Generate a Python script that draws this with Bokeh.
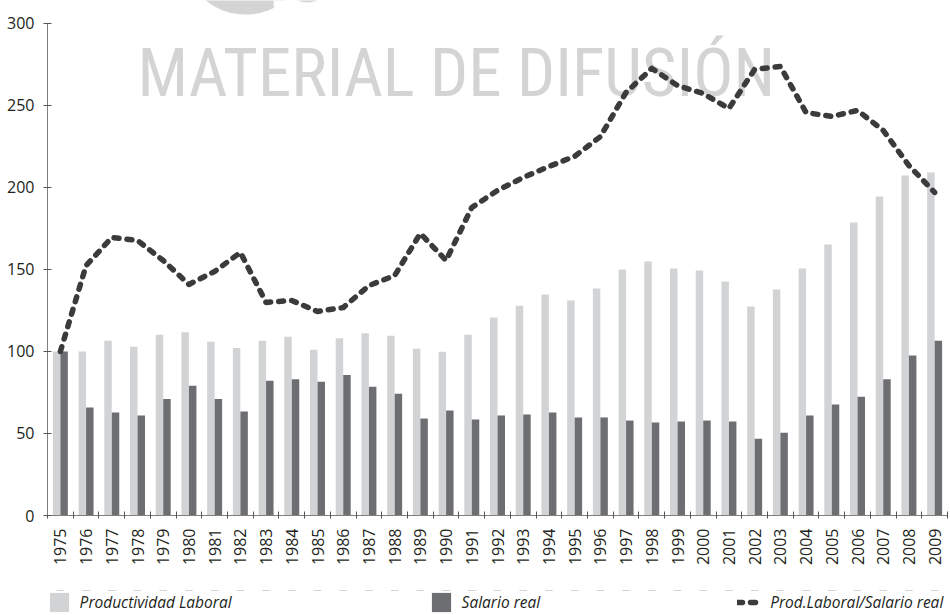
import math
from bokeh.plotting import figure
from bokeh.layouts import column
from bokeh.models import Range1d, FixedTicker, LinearAxis, Legend, LegendItem
from bokeh.core.properties import value
from bokeh.embed import file_html
from bokeh.resources import INLINE

years = [str(y) for y in range(1975, 2010)]
productividad = [100, 100, 106.5, 102.9, 110.2, 111.8, 105.9, 102.2, 106.5, 109.0,
                 101.0, 108.1, 111.2, 109.6, 101.6, 99.8, 110.2, 120.7, 127.9, 134.8,
                 131.1, 138.4, 150.0, 154.9, 150.6, 149.4, 142.7, 127.4, 137.8, 150.6,
                 165.2, 178.7, 194.5, 207.3, 209.1]
salario = [100, 65.9, 62.8, 61.0, 71.1, 79.1, 71.1, 63.4, 82.1, 83.1,
           81.5, 85.6, 78.5, 74.2, 59.1, 64.0, 58.5, 61.0, 61.6, 62.8,
           59.8, 59.8, 57.9, 56.7, 57.3, 57.9, 57.3, 46.8, 50.4, 61.0,
           67.7, 72.4, 83.1, 97.6, 106.5]
ratio = [100, 152.4, 169.5, 167.7, 155.5, 140.9, 148.8, 160.4, 129.9, 131.1,
         124.4, 126.8, 140.2, 146.3, 172.0, 155.5, 187.8, 198.2, 206.1, 212.8,
         219.0, 231.0, 258.0, 272.6, 262.2, 257.3, 248.2, 272.0, 273.8, 245.7,
         243.3, 247.0, 234.8, 213.4, 197.0]
y_ticks = [0, 50, 100, 150, 200, 250, 300]
series_names = ["Productividad Laboral", "Salario real", "Prod.Laboral/Salario real"]
watermark = "MATERIAL DE DIFUSIÓN"

FONT = "Open Sans"
TXT = "#231f20"
AX = "#7f7f7f"
LIGHT = "#d1d3d4"
DARK = "#6d6e71"
LINEC = "#3b3b3d"
WM = "#d4d4d4"

n = len(years)
centers = [i + 0.5 for i in range(n)]

p = figure(width=950, height=590, frame_width=900, frame_height=515,
           output_backend="svg", toolbar_location=None,
           x_range=Range1d(0, n), y_range=Range1d(0, 314.02),
           x_axis_type=None, y_axis_type=None,
           min_border_left=47, min_border_right=3, min_border_top=0, min_border_bottom=75)
p.outline_line_color = None
p.background_fill_color = "white"
p.border_fill_color = "white"

# watermark logo fragment and text
p.ellipse(x=[7.70], y=[338.4], width=118, height=108, width_units="screen", height_units="screen",
          fill_color=WM, line_color=None)
p.ellipse(x=[11.006], y=[314.02], width=114, height=114, width_units="screen", height_units="screen",
          fill_color="white", line_color=None)
p.ellipse(x=[10.11], y=[315.9], width=24, height=10, width_units="screen", height_units="screen",
          fill_color=WM, line_color=None)
p.text(x=[3.5], y=[269.8], text=[watermark], text_font=value("Roboto Condensed"),
       text_font_size="67px", text_color=WM, text_baseline="alphabetic", text_align="left")

p.vbar(x=[c - 0.146 for c in centers], top=productividad, bottom=0, width=0.29,
       fill_color=LIGHT, line_color=None)
p.vbar(x=[c + 0.146 for c in centers], top=salario, bottom=0, width=0.29,
       fill_color=DARK, line_color=None)
p.line(x=centers, y=ratio, line_width=5.5, line_color=LINEC, line_dash="5 8",
       line_cap="round", line_join="round")

yaxis = LinearAxis(ticker=FixedTicker(ticks=y_ticks), bounds=(0, 300))
yaxis.axis_line_color = AX
yaxis.major_tick_line_color = "#555555"
yaxis.major_tick_in = 4
yaxis.major_tick_out = 4
yaxis.minor_tick_line_color = None
yaxis.major_label_standoff = 9
yaxis.major_label_text_font = FONT
yaxis.major_label_text_font_size = "16px"
yaxis.major_label_text_color = TXT
p.add_layout(yaxis, "left")

xaxis = LinearAxis(ticker=FixedTicker(ticks=centers, minor_ticks=list(range(n + 1))),
                   major_label_overrides={c: y for c, y in zip(centers, years)})
xaxis.axis_line_color = AX
xaxis.major_tick_line_color = None
xaxis.major_tick_in = 0
xaxis.major_tick_out = 0
xaxis.minor_tick_line_color = "#555555"
xaxis.minor_tick_in = 4
xaxis.minor_tick_out = 3
xaxis.major_label_orientation = math.pi / 2
xaxis.major_label_standoff = 10
xaxis.major_label_text_font = FONT
xaxis.major_label_text_font_size = "16px"
xaxis.major_label_text_color = TXT
p.add_layout(xaxis, "below")

# legend strip (separate figure under the chart; its data lie outside its view)
lp = figure(width=950, height=25, output_backend="svg", toolbar_location=None,
            x_range=Range1d(0, n), y_range=Range1d(-2, -1),
            x_axis_type=None, y_axis_type=None, min_border=0)
lp.outline_line_color = None
lp.background_fill_color = "white"
lp.border_fill_color = "white"
lr1 = lp.vbar(x=centers, top=productividad, bottom=0, width=0.29, fill_color=LIGHT, line_color=None)
lr2 = lp.vbar(x=centers, top=salario, bottom=0, width=0.29, fill_color=DARK, line_color=None)
lr3 = lp.line(x=centers, y=ratio, line_width=5.5, line_color=LINEC, line_dash="5 8",
              line_cap="round", line_join="round")

legend = Legend(items=[LegendItem(label=series_names[0], renderers=[lr1]),
                       LegendItem(label=series_names[1], renderers=[lr2]),
                       LegendItem(label=series_names[2], renderers=[lr3])],
                location=(-0.4, 1), orientation="horizontal",
                glyph_width=24, glyph_height=24, label_standoff=9,
                padding=0, margin=0, spacing=197,
                border_line_color=None, background_fill_alpha=0,
                label_text_font=FONT, label_text_font_size="15.5px",
                label_text_font_style="italic", label_text_color=TXT)
lp.add_layout(legend, "center")

layout = column(p, lp, spacing=0)
open("out.html", "w").write(file_html(layout, INLINE))
